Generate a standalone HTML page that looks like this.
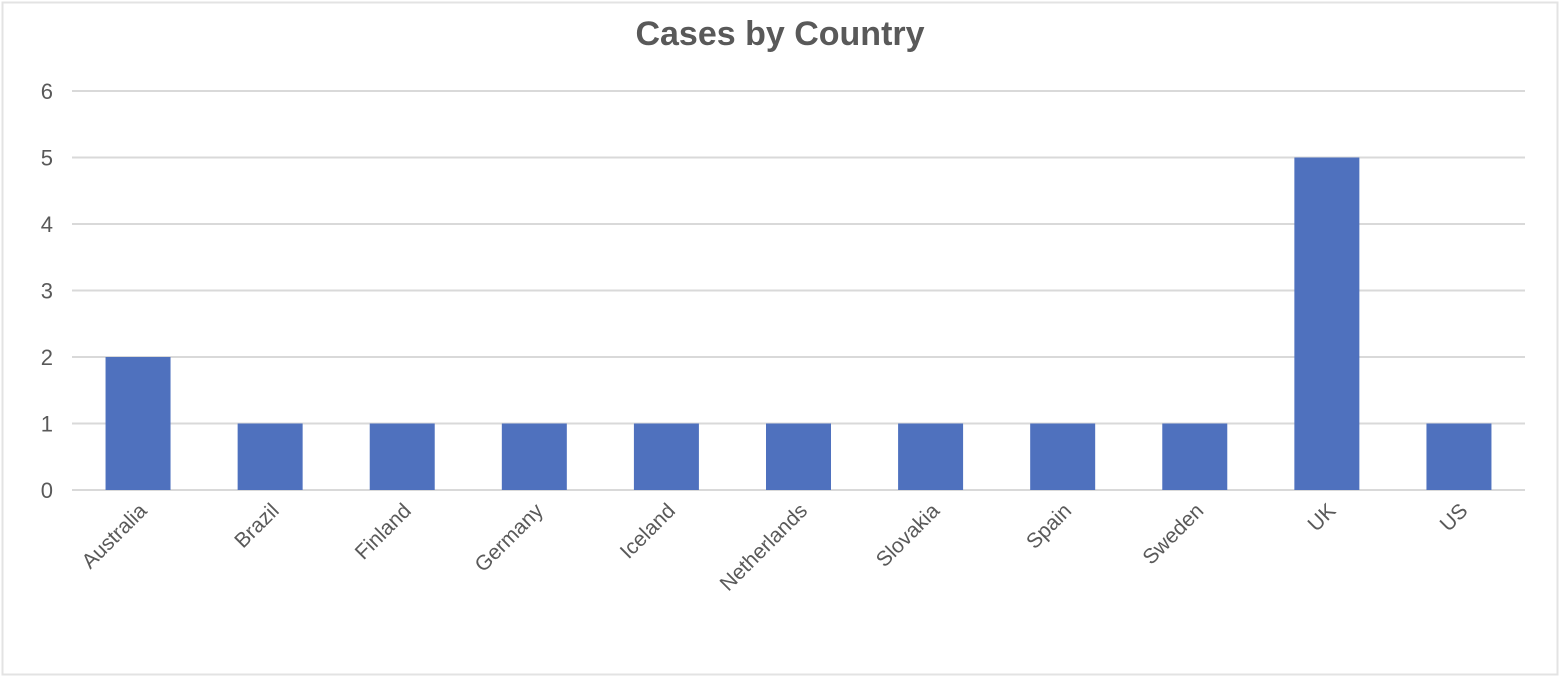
<!DOCTYPE html>
<html><head><meta charset="utf-8"><style>
html,body{margin:0;padding:0;background:#fff;}
svg{display:block;font-family:"Liberation Sans",sans-serif;}
</style></head><body>
<svg id="chart" width="1560" height="678" viewBox="0 0 1560 678" xmlns="http://www.w3.org/2000/svg">
<rect x="2.5" y="2.5" width="1555" height="672" fill="#fff" stroke="#e3e3e3" stroke-width="2"/>
<text x="780" y="45" text-anchor="middle" font-size="34" font-weight="bold" fill="#595959">Cases by Country</text>
<g id="grid"></g><g id="bars"></g><g id="ylabels"></g><g id="xlabels"></g>
</svg>
<script>
const categories=["Australia","Brazil","Finland","Germany","Iceland","Netherlands","Slovakia","Spain","Sweden","UK","US"];
const values=[2,1,1,1,1,1,1,1,1,5,1];
const yTicks=[0,1,2,3,4,5,6];
const NS="http://www.w3.org/2000/svg";
const L=72,R=1525,T=91,B=490,yMax=6;
const y=v=>B-(v/yMax)*(B-T);
const band=(R-L)/categories.length;
const xc=i=>L+band*(i+0.5);
const bw=65;
function mk(t,a,p){const e=document.createElementNS(NS,t);for(const k in a)e.setAttribute(k,a[k]);document.getElementById(p).appendChild(e);return e;}
yTicks.forEach(t=>{
 const g=mk('line',{x1:L,x2:R,y1:y(t),y2:y(t),stroke:'#d9d9d9','stroke-width':2},'grid');
 
 
 const tx=mk('text',{x:53,y:y(t)+8,'text-anchor':'end','font-size':22,fill:'#595959'},'ylabels');
 tx.textContent=t;
 
 
});
categories.forEach((c,i)=>{
 const r=mk('rect',{x:xc(i)-bw/2,y:y(values[i]),width:bw,height:B-y(values[i]),fill:'#4f71be'},'bars');
 
 
 const lx=xc(i)+10,ly=512;
 const t=mk('text',{x:lx,y:ly,'text-anchor':'end','font-size':21,fill:'#595959',transform:`rotate(-45 ${lx} ${ly})`},'xlabels');
 t.textContent=c;
 
 
});
</script>
</body></html>
